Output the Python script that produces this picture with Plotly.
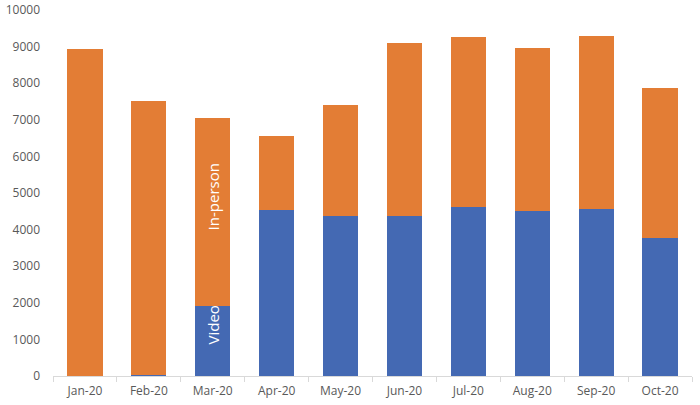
import plotly.graph_objects as go

months = ["Jan-20", "Feb-20", "Mar-20", "Apr-20", "May-20",
          "Jun-20", "Jul-20", "Aug-20", "Sep-20", "Oct-20"]
video = [0, 30, 1900, 4545, 4380, 4380, 4625, 4520, 4570, 3775]
in_person = [8940, 7485, 5155, 2015, 3025, 4725, 4635, 4440, 4715, 4090]
y_ticks = [0, 1000, 2000, 3000, 4000, 5000, 6000, 7000, 8000, 9000, 10000]

orange = "#E37D35"
blue = "#4469B3"
grey = "#595959"

fig = go.Figure()
fig.add_trace(go.Bar(x=months, y=video, name="Video", marker_color=blue,
                     marker_line_width=0))
fig.add_trace(go.Bar(x=months, y=in_person, name="In-person", marker_color=orange,
                     marker_line_width=0))

# series labels written inside the Mar-20 bar
fig.add_annotation(x="Mar-20", y=1400, text="Video", textangle=-90, showarrow=False,
                   font=dict(color="white", size=15, family="Open Sans"))
fig.add_annotation(x="Mar-20", y=4900, text="In-person", textangle=-90, showarrow=False,
                   font=dict(color="white", size=15, family="Open Sans"))

fig.update_layout(
    barmode="stack",
    bargap=0.45,
    showlegend=False,
    width=700, height=405,
    plot_bgcolor="white",
    paper_bgcolor="white",
    margin=dict(l=53, r=8, t=10, b=29),
    font=dict(family="Open Sans", size=12, color=grey),
)
fig.update_xaxes(showline=True, linecolor="#D9D9D9", linewidth=1,
                 ticks="outside", tickson="boundaries", ticklen=5, tickcolor="#D9D9D9",
                 ticklabelstandoff=4, automargin=False,
                 showgrid=False, tickfont=dict(size=12, color=grey))
fig.update_yaxes(range=[0, 10000], tickvals=y_ticks, tickformat="d",
                 ticklabeloverflow="allow", automargin=False,
                 showgrid=False, zeroline=False,
                 ticks="", ticklabelstandoff=12, tickfont=dict(size=12, color=grey))

# drop the default page margin so the figure fills the 700x405 window
fig.write_html("out.html", config={"displayModeBar": False},
               post_script="document.body.style.margin = '0';")
